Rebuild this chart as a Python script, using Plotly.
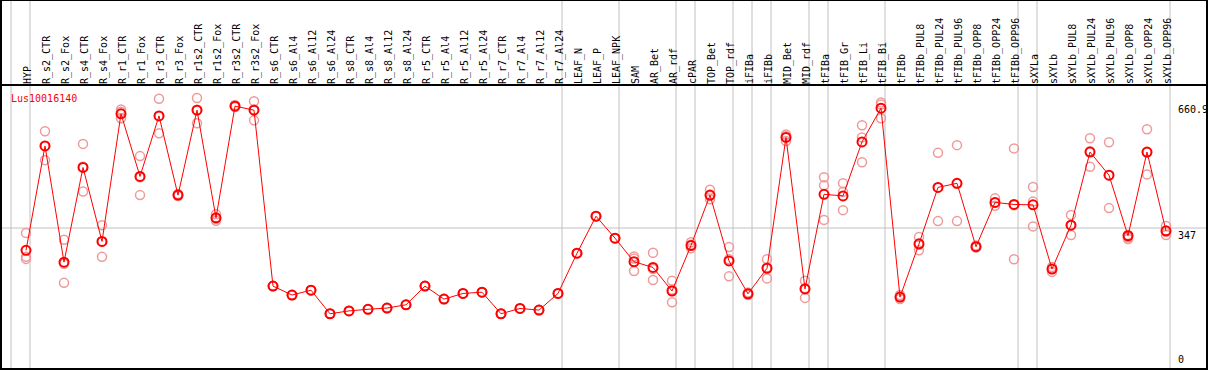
import plotly.graph_objects as go

categories = ["HYP", "R_s2_CTR", "R_s2_Fox", "R_s4_CTR", "R_s4_Fox", "R_r1_CTR", "R_r1_Fox",
              "R_r3_CTR", "R_r3_Fox", "R_r1s2_CTR", "R_r1s2_Fox", "R_r3s2_CTR", "R_r3s2_Fox",
              "R_s6_CTR", "R_s6_Al4", "R_s6_Al12", "R_s6_Al24", "R_s8_CTR", "R_s8_Al4", "R_s8_Al12",
              "R_s8_Al24", "R_r5_CTR", "R_r5_Al4", "R_r5_Al12", "R_r5_Al24", "R_r7_CTR", "R_r7_Al4",
              "R_r7_Al12", "R_r7_Al24", "LEAF_N", "LEAF_P", "LEAF_NPK", "SAM", "AR_Bet", "AR_rdf",
              "cPAR", "TOP_Bet", "TOP_rdf", "iFIBa", "iFIBb", "MID_Bet", "MID_rdf", "tFIBa",
              "tFIB_Gr", "tFIB_Li", "tFIB_Bi", "tFIBb", "tFIBb_PUL8", "tFIBb_PUL24", "tFIBb_PUL96",
              "tFIBb_OPP8", "tFIBb_OPP24", "tFIBb_OPP96", "sXYLa", "sXYLb", "sXYLb_PUL8",
              "sXYLb_PUL24", "sXYLb_PUL96", "sXYLb_OPP8", "sXYLb_OPP24", "sXYLb_OPP96"]

mean_values = [292, 549, 263, 496, 314, 628, 474, 623, 428, 637, 372, 647, 637,
               204, 182, 194, 136, 143, 147, 150, 158, 204, 172, 186, 189, 136, 149, 145, 186,
               285, 376, 322, 264, 250, 192, 304, 428, 266, 185, 248, 570, 197,
               430, 426, 559, 642, 177, 308, 447, 457, 301, 410, 405, 404, 246, 354,
               534, 477, 328, 534, 340]

rep1 = [335, 585, 318, 554, 354, 639, 524, 665, 431, 667, 381, 647, 659,
        204, 182, 194, 136, 143, 147, 150, 158, 204, 172, 186, 189, 136, 149, 145, 186,
        285, 376, 322, 277, 286, 217, 312, 441, 300, 188, 270, 577, 217,
        472, 457, 600, 656, 182, 325, 532, 551, 304, 420, 543, 448, 251, 379,
        568, 558, 330, 590, 352]
rep2 = [276, 514, 212, 437, 276, 633, 428, 580, 426, 605, 365, 645, 612,
        204, 182, 194, 136, 143, 147, 150, 158, 204, 172, 186, 189, 136, 149, 145, 186,
        285, 376, 322, 272, 219, 164, 306, 418, 228, 185, 223, 573, 175,
        452, 436, 509, 617, 177, 292, 364, 364, 301, 402, 270, 412, 239, 330,
        498, 396, 324, 479, 330]
rep3 = [271, 549, 259, 498, 313, 617, 472, 623, 428, 638, 369, 650, 639,
        204, 182, 194, 136, 143, 147, 150, 158, 204, 172, 186, 189, 136, 149, 145, 186,
        285, 376, 322, 241, 246, 195, 297, 426, 270, 182, 250, 561, 199,
        367, 391, 570, 651, 172, 306, 447, 456, 299, 409, 403, 351, 246, 354,
        536, 477, 320, 533, 337]

gene_name = "Lus10016140"
axis_labels = [660.9, 347, 0]
grid_values = [347]
# separators drawn after these category indices (-1 = before first)
separator_after = [-1, 0, 28, 31, 34, 35, 37, 38, 39, 41, 42, 45, 52, 53, 60]

W, H = 1209, 370
ML, MR, MT, MB = 1, 2, 85, 1
plot_h = H - MT - MB
plot_w = W - ML - MR
px_per_cat = 19.0
x0 = -25.0 / px_per_cat
x1 = x0 + plot_w / px_per_cat
ymax = 699.0

fig = go.Figure()

rep_color = "#ef9a9a"
for reps in (rep1, rep2, rep3):
    fig.add_trace(go.Scatter(
        x=categories, y=reps, mode="markers",
        marker=dict(symbol="circle-open", size=9, color=rep_color, line=dict(width=1.5, color=rep_color)),
        showlegend=False, hoverinfo="skip"))

fig.add_trace(go.Scatter(
    x=categories, y=mean_values, mode="lines+markers",
    line=dict(color="#ff0000", width=1),
    marker=dict(symbol="circle-open", size=9, color="#ff0000", line=dict(width=2, color="#ff0000")),
    showlegend=False))

shapes = []
top_paper = 1 + MT / plot_h
for s in separator_after:
    xs = s + 4.0 / px_per_cat
    shapes.append(dict(type="line", xref="x", yref="paper", x0=xs, x1=xs, y0=0, y1=top_paper,
                       line=dict(color="#c0c0c0", width=1), layer="below"))
for g in grid_values:
    shapes.append(dict(type="line", xref="paper", yref="y", x0=0, x1=1, y0=g, y1=g,
                       line=dict(color="#c0c0c0", width=1), layer="below"))
# frame
shapes.append(dict(type="rect", xref="paper", yref="paper", x0=0, x1=1, y0=0, y1=top_paper,
                   line=dict(color="black", width=2)))
shapes.append(dict(type="line", xref="paper", yref="paper", x0=0, x1=1, y0=1, y1=1,
                   line=dict(color="black", width=2)))

annotations = [dict(text=gene_name, xref="paper", yref="paper", x=8.0 / plot_w, y=1,
                    xanchor="left", yanchor="top", yshift=-6, showarrow=False,
                    font=dict(family="DejaVu Sans Mono", size=10, color="#ff0000"))]
for v in axis_labels:
    if v == 0:
        ya, ys = "bottom", 2
    elif v == axis_labels[0]:
        ya, ys = "top", -2
    else:
        ya, ys = "top", 0
    annotations.append(dict(text=(str(v) if v != int(v) else str(int(v))),
                            xref="x", yref="y", x=x1 - 31.0 / px_per_cat, y=v,
                            xanchor="left", yanchor=ya, yshift=ys, showarrow=False,
                            font=dict(family="DejaVu Sans Mono", size=10, color="black")))

fig.update_layout(
    width=W, height=H,
    margin=dict(l=ML, r=MR, t=MT, b=MB, pad=0, autoexpand=False),
    paper_bgcolor="white", plot_bgcolor="white",
    xaxis=dict(type="category", range=[x0, x1], side="top", tickangle=-90, ticks="",
               ticklabelshift=2,
               showgrid=False, zeroline=False, showline=False, automargin=False,
               tickfont=dict(family="DejaVu Sans Mono", size=10, color="black")),
    yaxis=dict(range=[0, ymax], showgrid=False, zeroline=False, showticklabels=False,
               ticks="", showline=False, automargin=False),
    shapes=shapes, annotations=annotations,
)

fig.write_html("out.html", config={"displayModeBar": False},
               post_script="document.body.style.margin='0';document.body.style.overflow='hidden';")
